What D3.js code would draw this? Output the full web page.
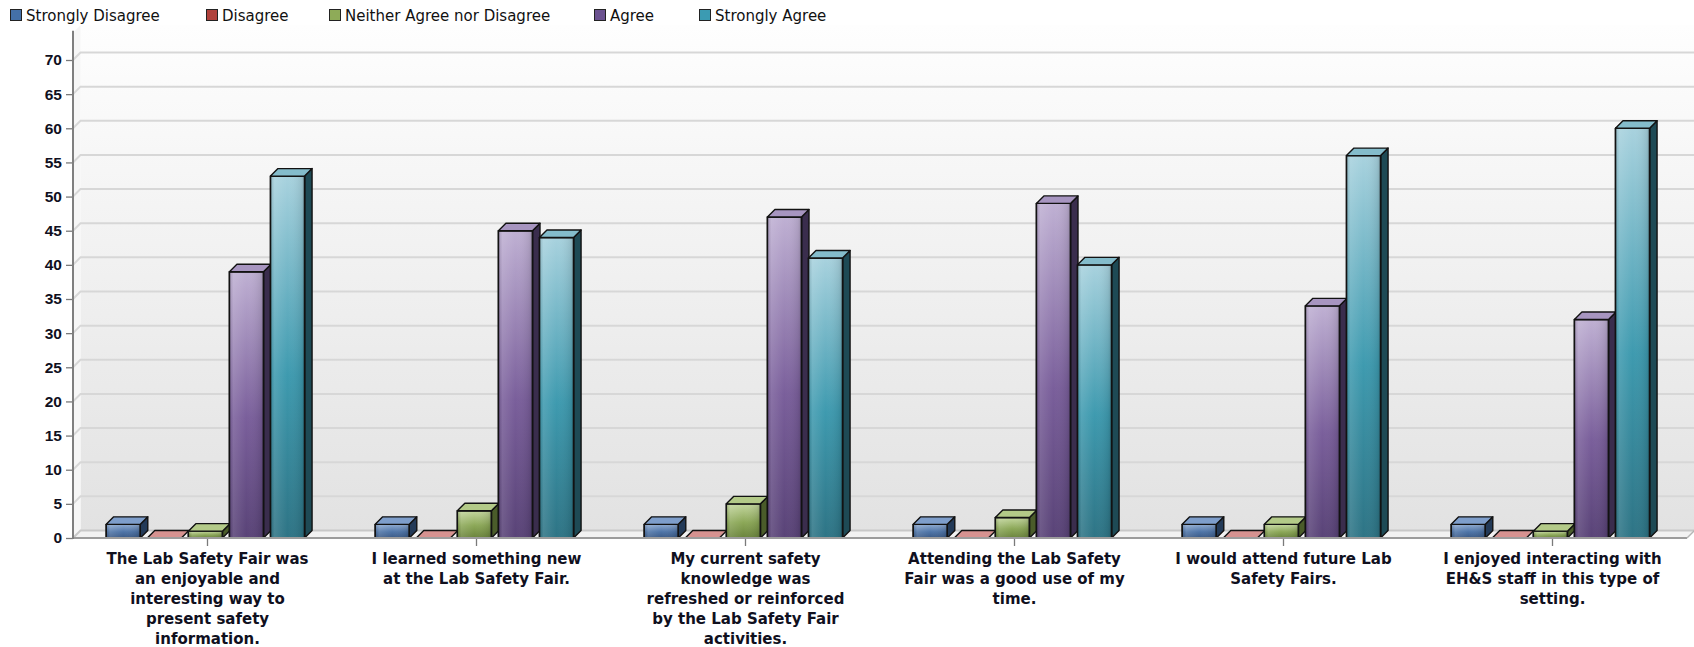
<!DOCTYPE html>
<html><head><meta charset="utf-8">
<script src="https://cdn.jsdelivr.net/npm/d3@7"></script>
<style>body{margin:0;background:#fff;} svg{display:block;font-family:"Liberation Sans",Arial,sans-serif;}</style>
</head><body><svg id="c" width="1694" height="647"></svg>
<script>
// ---- data ----
const categories = [
  "The Lab Safety Fair was an enjoyable and interesting way to present safety information.",
  "I learned something new at the Lab Safety Fair.",
  "My current safety knowledge was refreshed or reinforced by the Lab Safety Fair activities.",
  "Attending the Lab Safety Fair was a good use of my time.",
  "I would attend future Lab Safety Fairs.",
  "I enjoyed interacting with EH&S staff in this type of setting."
];
const categoryLines = [
  ["The Lab Safety Fair was","an enjoyable and","interesting way to","present safety","information."],
  ["I learned something new","at the Lab Safety Fair."],
  ["My current safety","knowledge was","refreshed or reinforced","by the Lab Safety Fair","activities."],
  ["Attending the Lab Safety","Fair was a good use of my","time."],
  ["I would attend future Lab","Safety Fairs."],
  ["I enjoyed interacting with","EH&S staff in this type of","setting."]
];
const seriesNames = ["Strongly Disagree","Disagree","Neither Agree nor Disagree","Agree","Strongly Agree"];
const stronglyDisagree = [2,2,2,2,2,2];
const disagree = [0,0,0,0,0,0];
const neitherAgreeNorDisagree = [1,4,5,3,2,1];
const agree = [39,45,47,49,34,32];
const stronglyAgree = [53,44,41,40,56,60];
const yTicks = [0,5,10,15,20,25,30,35,40,45,50,55,60,65,70];

const seriesValues = [stronglyDisagree, disagree, neitherAgreeNorDisagree, agree, stronglyAgree];

// ---- styles ----
const pal = [
  {legend:"#4470a8", top:"#8fabd2", mid:"#4e74a7", bot:"#3a5985", side:"#233a58", cap:"#7e9ecb"},
  {legend:"#b0413b", top:"#e2a4a0", mid:"#b6524c", bot:"#8d3a36", side:"#5a2422", cap:"#d69290"},
  {legend:"#8eab58", top:"#c4d79f", mid:"#8ba757", bot:"#6a833c", side:"#4a5c2a", cap:"#b3ca88"},
  {legend:"#6b5290", top:"#bfb0d3", mid:"#7a5f9b", bot:"#594377", side:"#3a2d4d", cap:"#a795c0"},
  {legend:"#3b9bb2", top:"#a8d2de", mid:"#3e9aaf", bot:"#2e7485", side:"#1e4a55", cap:"#84bccb"}
];
const legendX = [10, 206, 329, 594, 699];
const D = 7.5;
const W = 1694, H = 647;
const svg = d3.select("#c");
const defs = svg.append("defs");

const x0 = d3.scaleBand().domain(categories).range([73, 1687]).padding(0);
const x1 = d3.scaleBand().domain(seriesNames).range([0, x0.bandwidth()]).paddingInner(0.17).paddingOuter(0.86).align(0.47);
const y = d3.scaleLinear().domain([0, 70]).range([538, 60]);
const y0 = y(0), yTop = y(74);

// gradients
const wg = defs.append("linearGradient").attr("id","wall").attr("x1",0).attr("y1",0).attr("x2",0).attr("y2",1);
wg.append("stop").attr("offset","0%").attr("stop-color","#fefefe");
wg.append("stop").attr("offset","100%").attr("stop-color","#e2e2e2");
pal.forEach((p,i)=>{
  const g = defs.append("linearGradient").attr("id","f"+i).attr("x1",0).attr("y1",0).attr("x2",0).attr("y2",1);
  g.append("stop").attr("offset","0%").attr("stop-color",p.top);
  g.append("stop").attr("offset","55%").attr("stop-color",p.mid);
  g.append("stop").attr("offset","100%").attr("stop-color",p.bot);
});
const sh = defs.append("linearGradient").attr("id","shine").attr("x1",0).attr("y1",0).attr("x2",1).attr("y2",0);
sh.append("stop").attr("offset","0%").attr("stop-color","#000").attr("stop-opacity",0.12);
sh.append("stop").attr("offset","12%").attr("stop-color","#fff").attr("stop-opacity",0.12);
sh.append("stop").attr("offset","50%").attr("stop-color","#fff").attr("stop-opacity",0.0);
sh.append("stop").attr("offset","90%").attr("stop-color","#000").attr("stop-opacity",0.08);
sh.append("stop").attr("offset","100%").attr("stop-color","#000").attr("stop-opacity",0.2);

// back wall
svg.append("rect").attr("x",73+D).attr("y",yTop-D).attr("width",W-(73+D)).attr("height",y0-yTop).attr("fill","url(#wall)");
// left wall
svg.append("polygon").attr("points",[[73,yTop],[73+D,yTop-D],[73+D,y0-D],[73,y0]].join(" ")).attr("fill","#f6f6f6");
// floor
svg.append("polygon").attr("points",[[73,y0],[73+D,y0-D],[1687+D,y0-D],[1687,y0]].join(" ")).attr("fill","#f2f2f2");
// gridlines
const grid = svg.append("g");
yTicks.forEach(t=>{
  const yy = y(t);
  grid.append("path").attr("d",`M73,${yy}L${73+D},${yy-D}L${t===0?1687+D:W},${yy-D}`)
    .attr("fill","none").attr("stroke", t===0?"#c8c8c8":"#d7d7d7").attr("stroke-width",2);
});

// bars
const bars = svg.append("g").attr("stroke","#121212").attr("stroke-width",1.4).attr("stroke-linejoin","round");
categories.forEach((c,ci)=>{
  seriesNames.forEach((s,si)=>{
    const v = seriesValues[si][ci];
    const bx = x0(c) + x1(s), bw = x1.bandwidth(), by = y(v);
    const p = pal[si];
    const g = bars.append("g");
    if (v > 0) {
      g.append("polygon").attr("points",[[bx+bw,by],[bx+bw+D,by-D],[bx+bw+D,y0-D],[bx+bw,y0]].join(" ")).attr("fill",p.side);
      g.append("rect").attr("x",bx).attr("y",by).attr("width",bw).attr("height",y0-by).attr("fill",`url(#f${si})`);
      g.append("rect").attr("x",bx).attr("y",by).attr("width",bw).attr("height",y0-by).attr("fill","url(#shine)").attr("stroke","none");
      g.append("rect").attr("x",bx).attr("y",by).attr("width",bw).attr("height",y0-by).attr("fill","none");
    }
    g.append("polygon").attr("points",[[bx,by],[bx+D,by-D],[bx+bw+D,by-D],[bx+bw,by]].join(" ")).attr("fill",p.cap);
  });
});

// floor front edge
svg.append("line").attr("x1",73).attr("x2",1687).attr("y1",y0).attr("y2",y0).attr("stroke","#9c9c9c").attr("stroke-width",2);
svg.append("line").attr("x1",1687).attr("x2",1687+D).attr("y1",y0).attr("y2",y0-D).attr("stroke","#b5b5b5").attr("stroke-width",1.5);

// y axis
const ya = svg.append("g").attr("transform","translate(73,0)")
  .call(d3.axisLeft(y).tickValues(yTicks).tickSize(7).tickPadding(4).tickFormat(d3.format("d")));
ya.select(".domain").remove();
ya.selectAll(".tick line").attr("stroke","#7a7a7a").attr("stroke-width",1.3);
ya.selectAll(".tick text").attr("font-family",'"Liberation Sans",Arial,sans-serif').attr("font-size",15.5).attr("font-weight","bold").attr("fill","#10101e");
svg.append("line").attr("x1",73).attr("x2",73).attr("y1",yTop-2).attr("y2",y0+1).attr("stroke","#7f7f7f").attr("stroke-width",2);

// x axis ticks & labels
const xa = svg.append("g");
categories.forEach((c,ci)=>{
  const cx = x0(c) + x0.bandwidth()/2;
  xa.append("line").attr("x1",cx).attr("x2",cx).attr("y1",y0+1).attr("y2",y0+8).attr("stroke","#7a7a7a").attr("stroke-width",1.3);
  const t = xa.append("text").attr("x",cx).attr("y",563.5).attr("text-anchor","middle")
    .attr("font-family",'"DejaVu Sans",Verdana,sans-serif')
    .attr("font-size",15).attr("font-weight","bold").attr("fill","#10101e");
  categoryLines[ci].forEach((ln,li)=>{
    t.append("tspan").attr("x",cx).attr("dy", li===0?0:20.2).text(ln);
  });
});

// legend
const lg = svg.append("g");
seriesNames.forEach((s,i)=>{
  const lx = legendX[i];
  lg.append("rect").attr("x",lx+0.5).attr("y",9.5).attr("width",11).attr("height",11).attr("fill",pal[i].legend).attr("stroke","#222").attr("stroke-width",1);
  lg.append("text").attr("x",lx+16).attr("y",20.5)
    .attr("font-family",'"DejaVu Sans",Verdana,sans-serif').attr("font-size",15).attr("fill","#111").text(s);
});
</script></body></html>
